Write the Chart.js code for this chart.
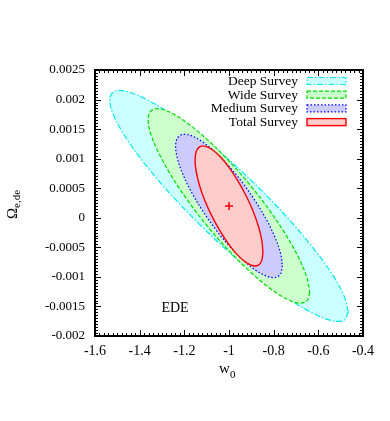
<!DOCTYPE html>
<html>
<head>
<meta charset="utf-8">
<script src="https://cdn.jsdelivr.net/npm/chart.js@4.4.0/dist/chart.umd.min.js"></script>
<style>
  html, body { margin: 0; padding: 0; background: #fff; }
  canvas { display: block; }
</style>
</head>
<body>
<canvas id="chart" width="390" height="421"></canvas>
<script>
const surveyNames = ["Deep Survey", "Wide Survey", "Medium Survey", "Total Survey"];

// contours (w0, Omega_e,de)
const deepX = [-0.466, -0.484, -0.537, -0.622, -0.733, -0.862, -1.000, -1.138, -1.267, -1.378, -1.463, -1.516,
  -1.534, -1.516, -1.463, -1.378, -1.267, -1.138, -1.000, -0.862, -0.733, -0.622, -0.537, -0.484];
const deepY = [-0.001592, -0.001733, -0.001742, -0.001619, -0.001372, -0.001017, -0.000580, -0.000090, 0.000421, 0.000916, 0.001362, 0.001729,
  0.001992, 0.002133, 0.002142, 0.002019, 0.001772, 0.001417, 0.000980, 0.000490, -0.000021, -0.000516, -0.000962, -0.001329];

const wideX = [-0.638, -0.651, -0.687, -0.744, -0.819, -0.906, -1.000, -1.094, -1.181, -1.256, -1.313, -1.350,
  -1.362, -1.350, -1.313, -1.256, -1.181, -1.094, -1.000, -0.906, -0.819, -0.744, -0.687, -0.651];
const wideY = [-0.001260, -0.001407, -0.001444, -0.001370, -0.001188, -0.000912, -0.000560, -0.000156, 0.000272, 0.000695, 0.001084, 0.001413,
  0.001660, 0.001807, 0.001844, 0.001770, 0.001588, 0.001312, 0.000960, 0.000556, 0.000128, -0.000295, -0.000684, -0.001013];

const mediumX = [-0.761, -0.769, -0.793, -0.831, -0.881, -0.938, -1.000, -1.062, -1.119, -1.169, -1.207, -1.231,
  -1.239, -1.231, -1.207, -1.169, -1.119, -1.062, -1.000, -0.938, -0.881, -0.831, -0.793, -0.769];
const mediumY = [-0.000810, -0.000949, -0.001010, -0.000989, -0.000886, -0.000710, -0.000471, -0.000187, 0.000124, 0.000440, 0.000739, 0.001002,
  0.001210, 0.001349, 0.001410, 0.001389, 0.001286, 0.001110, 0.000871, 0.000587, 0.000276, -0.000040, -0.000339, -0.000602];

const totalX = [-0.848, -0.853, -0.868, -0.892, -0.924, -0.961, -1.000, -1.039, -1.076, -1.108, -1.132, -1.147,
  -1.152, -1.147, -1.132, -1.108, -1.076, -1.039, -1.000, -0.961, -0.924, -0.892, -0.868, -0.853];
const totalY = [-0.000578, -0.000721, -0.000800, -0.000812, -0.000755, -0.000632, -0.000453, -0.000229, 0.000023, 0.000288, 0.000547, 0.000783,
  0.000978, 0.001121, 0.001200, 0.001212, 0.001155, 0.001032, 0.000853, 0.000629, 0.000377, 0.000112, -0.000147, -0.000383];

const fiducialX = [-1.0];
const fiducialY = [0.0002];

const xTickValues = [-1.6, -1.4, -1.2, -1.0, -0.8, -0.6, -0.4];
const xTickLabels = ["-1.6", "-1.4", "-1.2", "-1", "-0.8", "-0.6", "-0.4"];
const yTickValues = [-0.002, -0.0015, -0.001, -0.0005, 0, 0.0005, 0.001, 0.0015, 0.002, 0.0025];
const yTickLabels = ["-0.002", "-0.0015", "-0.001", "-0.0005", "0", "0.0005", "0.001", "0.0015", "0.002", "0.0025"];

const serif = "'Liberation Serif', 'DejaVu Serif', serif";

function contour(xs, ys) {
  const pts = xs.map((x, i) => ({ x: x, y: ys[i] }));
  pts.push(pts[0]);
  return pts;
}

const styles = [
  { line: "#00e8f0", fill: "#ccffff", dash: [6, 2, 1.5, 2] },
  { line: "#00dd00", fill: "#ccffcc", dash: [4, 2] },
  { line: "#0000ff", fill: "#ccccff", dash: [1.5, 2] },
  { line: "#ff0000", fill: "#ffcccc", dash: [] }
];
const contours = [contour(deepX, deepY), contour(wideX, wideY), contour(mediumX, mediumY), contour(totalX, totalY)];

const datasets = contours.map((pts, i) => ({
  label: surveyNames[i],
  data: pts,
  showLine: true,
  fill: "shape",
  backgroundColor: styles[i].fill,
  borderColor: styles[i].line,
  borderWidth: i === 3 ? 1.4 : 1.2,
  borderDash: styles[i].dash,
  pointRadius: 0,
  tension: 0.35,
  order: 4 - i
}));
datasets.push({
  label: "fiducial",
  data: fiducialX.map((x, i) => ({ x: x, y: fiducialY[i] })),
  pointStyle: "cross",
  pointRadius: 4,
  borderColor: "#ff0000",
  borderWidth: 1.5,
  order: 0
});

const framePlugin = {
  id: "frame",
  afterDraw(chart) {
    const ctx = chart.ctx;
    const a = chart.chartArea;
    const xs = chart.scales.x, ys = chart.scales.y;
    ctx.save();
    ctx.strokeStyle = "#000";
    ctx.lineWidth = 1;
    ctx.beginPath();
    for (let k = 0; k <= 60; k++) {
      const px = Math.round(xs.getPixelForValue(-1.6 + k * 0.02)) + 0.5;
      const len = k % 10 === 0 ? 6 : 3;
      ctx.moveTo(px, a.bottom); ctx.lineTo(px, a.bottom - len);
      ctx.moveTo(px, a.top); ctx.lineTo(px, a.top + len);
    }
    for (let k = 0; k <= 90; k++) {
      const py = Math.round(ys.getPixelForValue(-0.002 + k * 0.00005)) + 0.5;
      const len = k % 10 === 0 ? 6 : 3;
      ctx.moveTo(a.left, py); ctx.lineTo(a.left + len, py);
      ctx.moveTo(a.right, py); ctx.lineTo(a.right - len, py);
    }
    ctx.stroke();
    ctx.lineWidth = 2;
    ctx.strokeRect(a.left, a.top, a.right - a.left, a.bottom - a.top);

    // legend, text right-aligned with sample box on the right
    ctx.textAlign = "right";
    ctx.textBaseline = "middle";
    ctx.font = "13.5px " + serif;
    surveyNames.forEach((name, i) => {
      const y = 77.5 + i * 13.7;
      ctx.fillStyle = "#000";
      ctx.fillText(name, 298, y + 4);
      ctx.fillStyle = styles[i].fill;
      ctx.fillRect(307, y, 39, 7);
      ctx.strokeStyle = styles[i].line;
      ctx.lineWidth = i === 3 ? 1.4 : 1.2;
      ctx.setLineDash(styles[i].dash);
      ctx.strokeRect(307, y, 39, 7);
    });
    ctx.setLineDash([]);

    // EDE tag
    ctx.fillStyle = "#000";
    ctx.textAlign = "center";
    ctx.textBaseline = "alphabetic";
    ctx.font = "14px " + serif;
    ctx.fillText("EDE", 175, 312);

    // x title: w with subscript 0
    ctx.textAlign = "left";
    ctx.font = "15px " + serif;
    ctx.fillText("w", 219, 373);
    ctx.font = "11px " + serif;
    ctx.fillText("0", 230, 378);

    // y title: Omega with subscript e,de, rotated
    ctx.translate(17, 219);
    ctx.rotate(-Math.PI / 2);
    ctx.font = "15px " + serif;
    ctx.fillText("\u03A9", 0, 0);
    ctx.font = "11px " + serif;
    ctx.fillText("e,de", 11, 3);
    ctx.restore();
  }
};

new Chart(document.getElementById("chart"), {
  type: "scatter",
  data: { datasets: datasets },
  options: {
    responsive: false,
    animation: false,
    layout: { padding: { left: 0, top: 70, right: 27, bottom: 45 } },
    plugins: {
      legend: { display: false },
      tooltip: { enabled: false },
      filler: { propagate: false }
    },
    scales: {
      x: {
        type: "linear",
        min: -1.6,
        max: -0.4,
        afterBuildTicks: (s) => { s.ticks = xTickValues.map(v => ({ value: v })); },
        afterFit: (s) => { s.height = 40; },
        grid: { display: false, drawTicks: false },
        border: { display: false },
        ticks: {
          padding: 7,
          color: "#000",
          font: { family: serif, size: 14 },
          maxRotation: 0,
          callback: (v, i) => xTickLabels[i]
        }
      },
      y: {
        type: "linear",
        min: -0.002,
        max: 0.0025,
        afterBuildTicks: (s) => { s.ticks = yTickValues.map(v => ({ value: v })); },
        afterFit: (s) => { s.width = 95; },
        grid: { display: false, drawTicks: false },
        border: { display: false },
        ticks: {
          padding: 10,
          color: "#000",
          font: { family: serif, size: 13 },
          callback: (v, i) => yTickLabels[i]
        }
      }
    }
  },
  plugins: [framePlugin]
});
</script>
</body>
</html>
